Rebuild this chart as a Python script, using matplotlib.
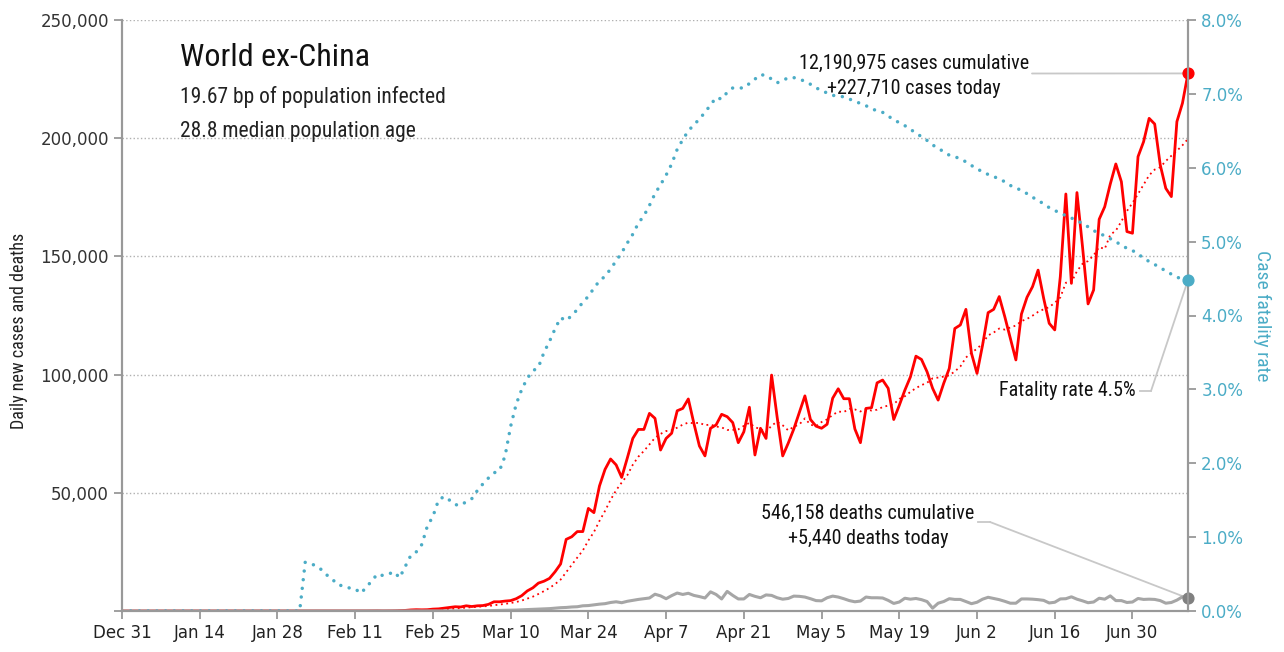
import pandas as pd
import matplotlib
matplotlib.use('Agg')
import matplotlib.pyplot as plt
from matplotlib import font_manager
from matplotlib.ticker import FuncFormatter

# daily values, Dec 31 2019 .. Jul 10 2020 (thousands)
dates = pd.date_range('2019-12-31', '2020-07-10', freq='D')

cases_k = [
    0, 0, 0, 0, 0, 0, 0, 0, 0, 0, 0, 0, 0, 0.001, 0, 0.001, 0.001, 0, 0.001, 0.002,
    0.003, 0.004, 0.006, 0.007, 0.01, 0.012, 0.012, 0.01, 0.012, 0.02, 0.017, 0.016, 0.015, 0.012, 0.015,
    0.013, 0.009, 0.01, 0.007, 0.01, 0.012, 0.003, 0.03, 0.02, 0.04, 0.08, 0.08, 0.04, 0.05, 0.08,
    0.15, 0.25, 0.45, 0.55, 0.5, 0.55,
    0.8, 0.9, 1.2, 1.5, 1.8, 1.7, 2.2, 1.9, 2.2, 2.3, 2.8, 3.9, 3.9, 4.2,
    4.4, 5.2, 6.5, 8.5, 9.8, 11.8, 12.6, 13.8, 16.6, 19.9,
    30.3, 31.4, 33.6, 33.6, 43.4, 41.6, 52.9, 59.9, 64.3, 61.8,
    56.5, 64.6, 73, 76.8, 76.8, 83.6, 81.5, 68.1, 73, 75.2,
    84.7, 85.7, 89.7, 79.4, 69.8, 65.6, 77.3, 78.7, 83.2, 82.2,
    79.7, 71.2, 75.8, 86.2, 66, 77.3, 73, 99.8, 82, 65.6,
    71, 77, 84, 91, 81, 78.2, 77.3, 79, 90, 94,
    89.8, 89.8, 77, 71.2, 85.7, 86, 96.5, 97.7, 94.2, 81,
    87, 93.4, 99, 107.8, 106.4, 101.2, 94.2, 89.2, 96.3, 102.6,
    119.5, 121, 127.6, 109, 100.5, 112.5, 126.2, 127.6, 133, 124.5,
    115.3, 106.2, 125.6, 132.7, 137.2, 144.2, 132.3, 121.7, 118.9, 141.4,
    176.4, 138.6, 177, 154.1, 129.9, 135.8, 165.7, 171, 180.6, 189.1,
    181.6, 160.5, 159.8, 192.2, 198.5, 208.4, 206, 188.7, 178.8, 175.3,
    207, 214.8, 227.4,
]

deaths_k = [0] * 55 + [
    .01, .01, .02, .02, .03, .04, .05, .06, .07, .1, .1, .15, .2, .25, .3,
    .35, .4, .5, .6, .7, .8, .9, 1.0, 1.2, 1.4,
    1.5, 1.7, 1.8, 2.2, 2.3, 2.6, 2.9, 3.1, 3.6, 3.9,
    3.5, 4.1, 4.5, 4.9, 5.2, 5.5, 7.1, 6.4, 5.2, 6.5,
    7.6, 7.0, 7.5, 6.6, 6.1, 5.5, 8.1, 7.0, 5.1, 8.3,
    6.6, 5.1, 5.1, 7.0, 6.2, 5.6, 6.8, 6.6, 5.6, 5.0,
    5.3, 6.3, 6.2, 5.9, 5.2, 4.4, 4.3, 5.6, 6.3, 5.9,
    5.2, 4.4, 3.9, 4.2, 5.9, 5.6, 5.6, 5.5, 4.5, 3.2,
    3.8, 5.4, 5.0, 5.3, 4.8, 4.0, 1.2, 3.3, 4.0, 5.2,
    4.9, 4.9, 4.0, 3.1, 3.7, 5.0, 5.8, 5.3, 4.8, 4.1,
    3.3, 3.3, 5.1, 5.1, 5.0, 4.8, 4.5, 3.4, 3.7, 5.1,
    5.2, 6.0, 5.0, 4.3, 3.5, 3.8, 5.4, 5.0, 6.4, 4.4,
    4.4, 3.6, 3.8, 5.3, 4.9, 5.0, 4.9, 4.4, 3.3, 3.6,
    4.6, 6.0, 5.4,
]

# case fatality rate, percent
cfr_pct = [0] * 33 + [
    0.66, 0.64, 0.61, 0.555, 0.48, 0.42, 0.35, 0.34, 0.31, 0.30, 0.24, 0.32,
    0.41, 0.50, 0.48, 0.50, 0.53, 0.45, 0.60, 0.75, 0.80, 0.9, 1.15, 1.28,
    1.5, 1.55, 1.5, 1.44, 1.43, 1.48, 1.52, 1.63, 1.72, 1.8, 1.87, 1.9,
    2.1, 2.5, 2.8, 3.0, 3.15, 3.25, 3.3, 3.5, 3.65, 3.82, 3.97, 3.93, 4.0,
    4.08, 4.18, 4.26, 4.37, 4.47, 4.53, 4.63, 4.74, 4.85, 4.98,
    5.1, 5.25, 5.35, 5.49, 5.65, 5.77, 5.9, 6.05, 6.25, 6.38,
    6.5, 6.58, 6.66, 6.75, 6.85, 6.95, 6.93, 7.02, 7.08, 7.08,
    7.08, 7.14, 7.2, 7.26, 7.25, 7.2, 7.15, 7.18, 7.22, 7.22,
    7.2, 7.17, 7.13, 7.08,
    7.05, 7.01, 6.98, 6.97, 6.96, 6.93, 6.90, 6.87, 6.84, 6.80, 6.77, 6.75,
    6.70, 6.65, 6.61, 6.57, 6.52, 6.47, 6.42, 6.37, 6.31, 6.26, 6.22, 6.17,
    6.15,
    6.12, 6.08, 6.03, 5.99, 5.94, 5.91, 5.88, 5.85, 5.81, 5.76, 5.73, 5.69,
    5.65, 5.60, 5.56, 5.51, 5.46, 5.42, 5.39, 5.35, 5.32, 5.28, 5.25, 5.20,
    5.15, 5.11, 5.08, 5.04, 5.00, 4.95, 4.91, 4.88, 4.83, 4.78, 4.73, 4.69,
    4.65, 4.60, 4.56, 4.52, 4.49, 4.48,
]

title = 'World ex-China'
sub1 = '19.67 bp of population infected'
sub2 = '28.8 median population age'
cases_note = ['12,190,975 cases cumulative', '+227,710 cases today']
deaths_note = ['546,158 deaths cumulative', '+5,440 deaths today']
cfr_note = 'Fatality rate 4.5%'

cases = pd.Series(cases_k, index=dates) * 1000
deaths = pd.Series(deaths_k, index=dates) * 1000
cfr = pd.Series(cfr_pct, index=dates) / 100
cases_avg = cases.rolling(7, min_periods=1).mean()


# look for a narrow font on this machine
def narrow_font():
    prefs = ['Liberation Sans Narrow', 'Roboto Condensed', 'DejaVu Sans Condensed',
             'Noto Sans Condensed', 'Open Sans Condensed', 'Arial Narrow']
    cands = []
    for f in font_manager.fontManager.ttflist:
        if f.style != 'normal' or f.weight not in (400, 'normal', 'regular'):
            continue
        narrowish = ('Narrow' in f.name or 'Condensed' in f.name or
                     f.stretch in ('condensed', 'semi-condensed', 'extra-condensed'))
        if narrowish:
            rank = prefs.index(f.name) if f.name in prefs else len(prefs)
            if 'Light' in f.fname or 'Bold' in f.fname:
                rank += 20
            cands.append((rank, f.fname))
    if cands:
        cands.sort()
        return font_manager.FontProperties(fname=cands[0][1])
    return font_manager.FontProperties(family='DejaVu Sans', stretch='condensed')


NARROW = narrow_font()


def nf(size):
    p = NARROW.copy()
    p.set_size(size)
    return p


RED = '#ff0000'
TEAL = '#4bacc6'
GREY = '#a6a6a6'
AX = '#999999'

fig = plt.figure(figsize=(12.84, 6.52), dpi=100)
ax = fig.add_axes([122 / 1284, 1 - 611 / 652, (1188 - 122) / 1284, (611 - 20) / 652])
ax2 = ax.twinx()

ax.plot(cases_avg.index, cases_avg.values, color=RED, lw=1.3, ls=(0, (1, 2)), zorder=3)
ax.plot(cases.index, cases.values, color=RED, lw=2.0, zorder=4)
ax.plot(deaths.index, deaths.values, color=GREY, lw=2.2, zorder=5)
ax.scatter([dates[-1]], [cases.iloc[-1]], s=60, color=RED, zorder=6, clip_on=False)
ax.scatter([dates[-1]], [deaths.iloc[-1]], s=60, color='#808080', zorder=6, clip_on=False)

ax2.plot(cfr.index, cfr.values, color=TEAL, lw=2.5, ls=(0, (0.01, 2.5)),
         dash_capstyle='round', zorder=2)
ax2.scatter([dates[-1]], [cfr.iloc[-1]], s=60, color=TEAL, zorder=6, clip_on=False)

ax.set_xlim(dates[0], dates[-1])
ax.set_ylim(0, 250000)
ax2.set_ylim(0, 0.08)

ticks = pd.date_range(dates[0], dates[-1], freq='14D')
ax.set_xticks(ticks)
ax.set_xticklabels([f'{d:%b} {d.day}' for d in ticks])
ax.set_yticks(range(0, 250001, 50000))
ax.yaxis.set_major_formatter(FuncFormatter(lambda v, p: '' if v == 0 else f'{v:,.0f}'))
ax2.set_yticks([i / 100 for i in range(9)])
ax2.yaxis.set_major_formatter(FuncFormatter(lambda v, p: f'{v * 100:.1f}%'))

ax.yaxis.grid(True, ls=':', color='#b0b0b0', lw=1)
ax.set_axisbelow(True)

for a in (ax, ax2):
    a.spines['top'].set_visible(False)
    for s in ('left', 'right', 'bottom'):
        a.spines[s].set_color(AX)
        a.spines[s].set_linewidth(1.5)
    a.tick_params(axis='both', colors=AX, length=6, width=1.3, labelsize=12)
ax.tick_params(axis='x', labelcolor='#222222')
ax.tick_params(axis='y', labelcolor='#333333')
ax2.tick_params(axis='y', labelcolor=TEAL)

ax.set_ylabel('Daily new cases and deaths', fontproperties=nf(13), color='#222222')
ax.yaxis.set_label_coords(-0.088, 0.474)
ax2.set_ylabel('Case fatality rate', fontproperties=nf(14), color=TEAL, rotation=270, labelpad=20)


def px(x, y):
    return (x / 1284, 1 - y / 652)


fig.text(*px(180, 57), title, fontproperties=nf(23), va='center', color='#111111')
fig.text(*px(180, 97), sub1, fontproperties=nf(15.5), va='center', color='#222222')
fig.text(*px(180, 131), sub2, fontproperties=nf(15.5), va='center', color='#222222')

note = dict(fontproperties=nf(14.5), ha='center', va='center', color='#111111')
fig.text(*px(914, 63), cases_note[0], **note)
fig.text(*px(914, 89), cases_note[1], **note)
fig.text(*px(868, 513), deaths_note[0], **note)
fig.text(*px(868, 538), deaths_note[1], **note)
fig.text(*px(1136, 391), cfr_note, fontproperties=nf(14.5), ha='right', va='center', color='#111111')

lc = '#c8c8c8'
arrow = dict(arrowstyle='-', color=lc, lw=1.3, shrinkA=0, shrinkB=0)
ax.annotate('', xy=(dates[-1], cases.iloc[-1]), xytext=(1032, 652 - 73.5),
            textcoords='figure pixels', arrowprops=arrow, annotation_clip=False)
fig.add_artist(plt.Line2D([978 / 1284, 990 / 1284], [1 - 522 / 652] * 2, color=lc, lw=1.3))
ax.annotate('', xy=(dates[-1], deaths.iloc[-1]), xytext=(990, 652 - 522),
            textcoords='figure pixels', arrowprops=arrow, annotation_clip=False)
fig.add_artist(plt.Line2D([1140 / 1284, 1151 / 1284], [1 - 391 / 652] * 2, color=lc, lw=1.3))
ax2.annotate('', xy=(dates[-1], cfr.iloc[-1]), xytext=(1151, 652 - 391),
             textcoords='figure pixels', arrowprops=arrow, annotation_clip=False)

fig.savefig('out.png', dpi=100)
